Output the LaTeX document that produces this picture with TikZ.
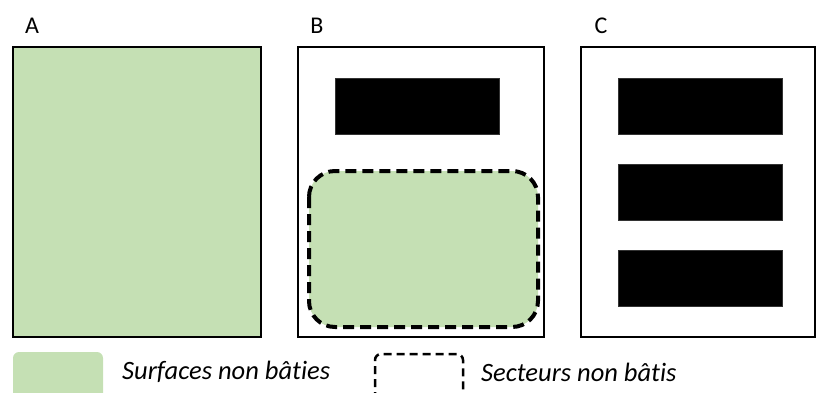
\documentclass[tikz,border=0pt]{standalone}
\usepackage{fontspec}
\setmainfont[Ligatures=NoCommon]{Carlito}
\definecolor{lgreen}{HTML}{C5E0B4}
\begin{document}
\begin{tikzpicture}[x=1pt,y=-1pt,
  frame/.style={draw=black,line width=2.5pt,fill=white},
  bldg/.style={fill=black,draw=black!80,line width=0.5pt},
  open/.style={fill=lgreen,draw=black,line width=4pt,dash pattern=on 11pt off 6pt,rounded corners=26pt},
  lbl/.style={font=\fontsize{24}{28}\selectfont,inner sep=0pt},
  leg/.style={font=\fontsize{26.5}{30}\selectfont\itshape,inner sep=0pt,anchor=west}]
\useasboundingbox (0,0) rectangle (817,392);
% panel A
\draw[frame,fill=lgreen] (13,47) rectangle (261,337);
\node[lbl] (la) at (32,26) {A};
% panel B
\draw[frame] (298,47) rectangle (544,337);
\node[lbl] (lb) at (317,26) {B};
\draw[bldg] (335,78) rectangle (499,134);
\draw[open] (309,171) rectangle (538,327);
% panel C
\draw[frame] (581,47) rectangle (815,337);
\node[lbl] (lc) at (601,26) {C};
\draw[bldg] (618,78) rectangle (782,134);
\draw[bldg] (618,164) rectangle (782,220);
\draw[bldg] (618,250) rectangle (782,306);
% legend
\fill[lgreen,rounded corners=6pt] (13,352) rectangle (103,400);
\node[leg] (t1) at (122,372) {Surfaces non bâties};
\draw[black,line width=2.5pt,dash pattern=on 8pt off 5pt,rounded corners=6pt] (375,400) -- (375,354) -- (463,354) -- (463,400);
\node[leg] (t2) at (481,372) {Secteurs non bâtis};
\end{tikzpicture}
\end{document}
